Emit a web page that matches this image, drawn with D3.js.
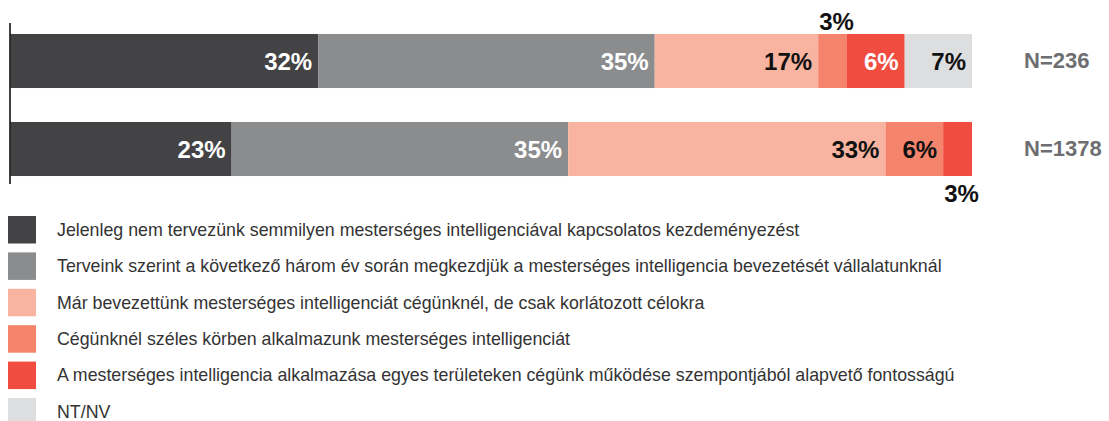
<!DOCTYPE html>
<html>
<head>
<meta charset="utf-8">
<script src="https://cdn.jsdelivr.net/npm/d3@7"></script>
<style>
  html, body { margin: 0; padding: 0; background: #fff; }
  svg { display: block; }
</style>
</head>
<body>
<div id="chart"></div>
<script>
// sorok (minta nagysága)
const groups = ["N=236", "N=1378"];

// kategóriák, a jelmagyarázat sorrendjében
const categories = [
  "Jelenleg nem tervezünk semmilyen mesterséges intelligenciával kapcsolatos kezdeményezést",
  "Terveink szerint a következő három év során megkezdjük a mesterséges intelligencia bevezetését vállalatunknál",
  "Már bevezettünk mesterséges intelligenciát cégünknél, de csak korlátozott célokra",
  "Cégünknél széles körben alkalmazunk mesterséges intelligenciát",
  "A mesterséges intelligencia alkalmazása egyes területeken cégünk működése szempontjából alapvető fontosságú",
  "NT/NV"
];

// értékek (%) soronként: [N=236, N=1378]
const notPlanned = [32, 23];
const planned = [35, 35];
const limited = [17, 33];
const wide = [3, 6];
const essential = [6, 3];
const noAnswer = [7, 0];

const colors = ["#434244", "#8b8c8e", "#f8b4a0", "#f5846d", "#f04c40", "#dddee0"];
const textColors = ["#fff", "#fff", "#111", "#111", "#fff", "#111"];

const W = 1109, H = 421;
const seriesValues = [notPlanned, planned, limited, wide, essential, noAnswer];

const rows = groups.map((g, gi) => {
  const r = { group: g };
  categories.forEach((c, ci) => { r[c] = seriesValues[ci][gi]; });
  return r;
});

const stacked = d3.stack().keys(categories)(rows);

const x = d3.scaleLinear().domain([0, 100]).range([10.5, 972]);
const y = d3.scaleBand().domain(groups).range([17, 193]).paddingInner(0.386).paddingOuter(0.193);

const svg = d3.select("#chart").append("svg")
  .attr("width", W)
  .attr("height", H)
  .attr("viewBox", [0, 0, W, H])
  .attr("font-family", "'Liberation Sans', Arial, Helvetica, sans-serif");

// szegmensek
const layer = svg.selectAll("g.layer")
  .data(stacked)
  .join("g")
  .attr("class", "layer")
  .attr("fill", (d, i) => colors[i]);

layer.selectAll("rect")
  .data(d => d.filter(s => s[1] - s[0] > 0))
  .join("rect")
  .attr("x", d => x(d[0]))
  .attr("y", d => y(d.data.group))
  .attr("width", d => x(d[1]) - x(d[0]))
  .attr("height", y.bandwidth());

// címkék: kicsi érték -> a sávon kívül (felül az első, alul a második sornál)
stacked.forEach((s, ci) => {
  s.forEach((d, gi) => {
    const v = d[1] - d[0];
    if (v <= 0) return;
    const yTop = y(d.data.group);
    const t = svg.append("text")
      .attr("font-size", 24)
      .attr("font-weight", "bold")
      .text(v + "%");
    if (v < 4) {
      t.attr("x", (x(d[0]) + x(d[1])) / 2 + 4)
        .attr("text-anchor", "middle")
        .attr("fill", "#111")
        .attr("y", gi === 0 ? yTop - 4 : yTop + y.bandwidth() + 26);
    } else {
      t.attr("x", x(d[1]) - 6)
        .attr("text-anchor", "end")
        .attr("fill", textColors[ci])
        .attr("y", yTop + y.bandwidth() / 2 + 9);
    }
  });
});

// N címkék
svg.selectAll("text.n")
  .data(groups)
  .join("text")
  .attr("class", "n")
  .attr("x", 1024)
  .attr("y", d => y(d) + y.bandwidth() / 2 + 7)
  .attr("font-size", 22)
  .attr("font-weight", "bold")
  .attr("fill", "#6d6e71")
  .text(d => d);

// függőleges tengely
svg.append("line")
  .attr("x1", 10).attr("x2", 10)
  .attr("y1", y(groups[0]) - 11)
  .attr("y2", y(groups[groups.length - 1]) + y.bandwidth() + 8)
  .attr("stroke", "#000")
  .attr("stroke-width", 1.5);

// jelmagyarázat
const legend = svg.selectAll("g.legend")
  .data(categories)
  .join("g")
  .attr("class", "legend")
  .attr("transform", (d, i) => `translate(8,${216 + i * 36.4})`);

legend.append("rect")
  .attr("width", 28)
  .attr("height", 27.5)
  .attr("fill", (d, i) => colors[i]);

legend.append("text")
  .attr("x", 49)
  .attr("y", 19.8)
  .attr("font-size", 17.8)
  .attr("fill", "#333")
  .text(d => d);
</script>
</body>
</html>
